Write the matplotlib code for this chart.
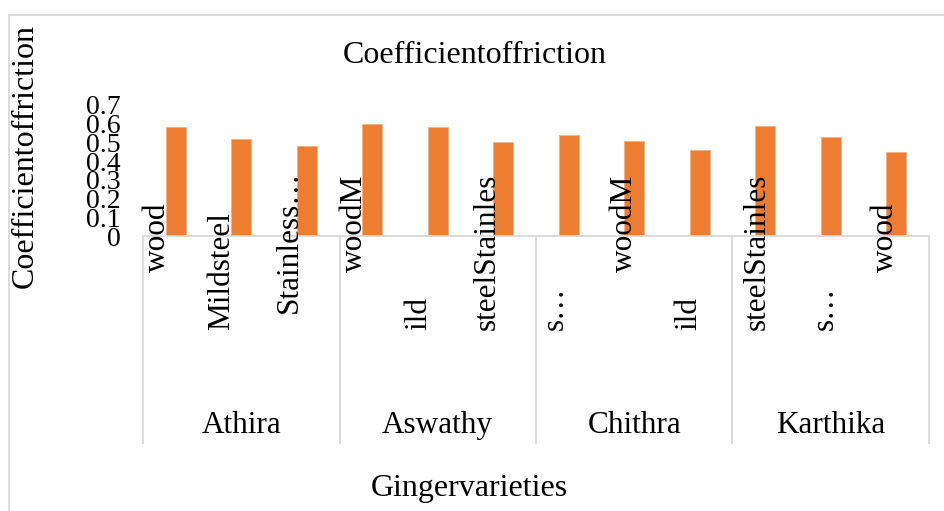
import numpy as np
import matplotlib
matplotlib.use("Agg")
import matplotlib.pyplot as plt
from matplotlib import transforms
from matplotlib.patches import Rectangle
from matplotlib.lines import Line2D

# ---------------- data ----------------
varieties = ["Athira", "Aswathy", "Chithra", "Karthika"]
surfaces = ["wood", "Mild steel", "Stainless steel"]
athira = [0.58, 0.52, 0.48]
aswathy = [0.60, 0.58, 0.50]
chithra = [0.54, 0.51, 0.46]
karthika = [0.59, 0.53, 0.45]
# category labels exactly as they appear (wrapped/overlapping in the original)
slot_labels = ["wood", "Mildsteel", "Stainless…", "woodM", "ild", "steelStainles",
               "s…", "woodM", "ild", "steelStainles", "s…", "wood"]
yticks = [0, 0.1, 0.2, 0.3, 0.4, 0.5, 0.6, 0.7]
ytick_labels = ["0", "0.1", "0.2", "0.3", "0.4", "0.5", "0.6", "0.7"]
title = "Coefficientoffriction"
ylabel = "Coefficientoffriction"
xlabel = "Gingervarieties"

# ---------------- style ----------------
FONT = "Liberation Serif"
plt.rcParams["font.family"] = [FONT, "DejaVu Serif"]
BAR = "#ED7D31"
GRID = "#D9D9D9"
W, H = 945, 511

fig = plt.figure(figsize=(W / 100, H / 100), dpi=100)
fig.patch.set_facecolor("white")

# chart border
fig.add_artist(Rectangle((9 / W, -0.05), 1.2, (H - 15) / H + 0.05,
                         transform=fig.transFigure, fill=False,
                         edgecolor=GRID, linewidth=1.3))

ax = fig.add_axes([143 / W, (H - 236) / H, (929 - 143) / W, (236 - 105) / H])
ax.set_facecolor("none")

values = np.array([athira, aswathy, chithra, karthika]).ravel()
x = np.arange(len(values))
ax.bar(x, values, width=0.305, color=BAR, edgecolor="#F4B183",
       linewidth=0.6, zorder=2)

ax.set_xlim(-0.5, len(values) - 0.5)
ax.set_ylim(0, 0.7)
ax.set_yticks(yticks)
ax.set_yticklabels(ytick_labels, fontsize=20, family=FONT)
ax.tick_params(axis="y", length=0, pad=16)
ax.set_xticks([])
for s in ["top", "right", "left"]:
    ax.spines[s].set_visible(False)
ax.spines["bottom"].set_color(GRID)
ax.spines["bottom"].set_linewidth(1.3)

# group separators
blend = transforms.blended_transform_factory(ax.transData, fig.transFigure)
n = len(surfaces)
for g in range(len(varieties) + 1):
    xs = g * n - 0.5
    ax.add_line(Line2D([xs, xs], [(H - 236) / H, (H - 443) / H],
                       transform=blend, color=GRID, linewidth=1.3,
                       clip_on=False))

# rotated (overlapping) slot labels
dx_px = [-11, -12, -10, -10, -11, -8, -6, -2, -3, 0, 2, -3]
ybot_px = [272, 330, 313, 272, 330, 330, 330, 272, 330, 330, 330, 272]
for i, lab in enumerate(slot_labels):
    tr = blend + transforms.ScaledTranslation(dx_px[i] / 100, 0,
                                              fig.dpi_scale_trans)
    ax.text(i, (H - ybot_px[i]) / H, lab, transform=tr, rotation=90,
            rotation_mode="anchor", ha="left", va="baseline",
            fontsize=22.5, family=FONT, zorder=5, clip_on=False)

# variety labels
for g, name in enumerate(varieties):
    ax.text(g * n + (n - 1) / 2, (H - 425) / H, name, transform=blend,
            ha="center", va="center", fontsize=22.5, family=FONT,
            clip_on=False)

fig.text(475 / W, (H - 55) / H, title, ha="center", va="center",
         fontsize=23, family=FONT)
fig.text(469 / W, (H - 488) / H, xlabel, ha="center", va="center",
         fontsize=23, family=FONT)
fig.text(25 / W, (H - 156) / H, ylabel, ha="center", va="center",
         rotation=90, fontsize=23, family=FONT)

fig.savefig("out.png", dpi=100)
